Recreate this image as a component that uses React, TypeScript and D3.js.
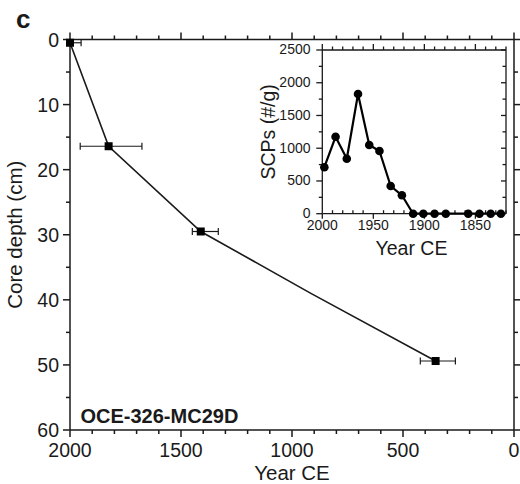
import React from "react";
import * as d3 from "d3";

// Age–depth model of the core
const ageYears = [2000, 1826, 1411, 353];
const ageDepths = [0.5, 16.4, 29.5, 49.4];
const ageYoung = [2050, 1954, 1449, 422];
const ageOld = [1950, 1676, 1332, 264];
const modelYears = [2000, 1826, 1411, 915, 353];
const modelDepths = [0.5, 16.4, 29.5, 39.0, 49.4];

// Spheroidal carbonaceous particle counts (inset)
const scpYears = [1998, 1987, 1976, 1965, 1954, 1944, 1933, 1922, 1911, 1901, 1890, 1879, 1857, 1846, 1835, 1825];
const scpCounts = [710, 1175, 840, 1828, 1050, 958, 423, 281, 0, 0, 0, 0, 0, 0, 0, 0];

const mainYearTicks = [2000, 1500, 1000, 500, 0];
const mainDepthTicks = [0, 10, 20, 30, 40, 50, 60];
const insetYearTicks = [2000, 1950, 1900, 1850];
const insetCountTicks = [0, 500, 1000, 1500, 2000, 2500];

const FONT = "'Liberation Sans', Arial, Helvetica, sans-serif";
const INK = "#1a1a1a";

export default function App() {
  const x = d3.scaleLinear().domain([2000, 0]).range([70, 514]);
  const y = d3.scaleLinear().domain([0, 60]).range([39.5, 430]);

  const xi = d3.scaleLinear().domain([2000, 1820]).range([322.3, 506]);
  const yi = d3.scaleLinear().domain([0, 2500]).range([213.7, 50]);

  const modelLine = d3
    .line<number>()
    .x((_, i) => x(modelYears[i]))
    .y((_, i) => y(modelDepths[i]))(modelYears);

  const scpLine = d3
    .line<number>()
    .x((_, i) => xi(scpYears[i]))
    .y((_, i) => yi(scpCounts[i]))(scpYears);

  const [x0, x1] = x.range();
  const [y0, y1] = y.range();
  const minorYears = d3.range(2000, -1, -100);
  const minorDepths = d3.range(0, 61, 5);

  const [ix0, ix1] = xi.range();
  const [iyB, iyT] = yi.range();
  const insetMinorYears = d3.range(2000, 1819, -10);
  const insetMinorCounts = d3.range(0, 2501, 250);

  const clampYear = (v: number) => Math.max(0, Math.min(2000, v));

  return (
    <svg
      width={520}
      height={484}
      style={{ position: "absolute", left: 0, top: 0, background: "#fff" }}
      fontFamily={FONT}
    >
      <rect width={520} height={484} fill="#fff" />
      <text x={16} y={28} fontSize={26} fontWeight="bold" fill={INK}>
        c
      </text>

      {/* main frame */}
      <g stroke={INK} strokeWidth={1.5} fill="none">
        <line x1={x0} x2={x1} y1={y0} y2={y0} />
        <line x1={x0} x2={x1} y1={y1} y2={y1} />
        <line x1={x0} x2={x0} y1={y0} y2={y1} />
        <line x1={x1} x2={x1} y1={y0} y2={y1} />
        {minorYears.map((v) => {
          const major = v % 500 === 0;
          const len = major ? 7 : 4;
          return (
            <g key={"mx" + v}>
              <line x1={x(v)} x2={x(v)} y1={y1} y2={y1 + len} />
              <line x1={x(v)} x2={x(v)} y1={y0} y2={y0 - len} />
            </g>
          );
        })}
        {minorDepths.map((v) => {
          const major = v % 10 === 0;
          const len = major ? 7 : 4;
          return (
            <g key={"my" + v}>
              <line x1={x0} x2={x0 - len} y1={y(v)} y2={y(v)} />
              <line x1={x1} x2={x1 + len} y1={y(v)} y2={y(v)} />
            </g>
          );
        })}
      </g>

      {mainYearTicks.map((v) => (
        <text key={"lx" + v} x={x(v)} y={457} fontSize={19.5} textAnchor="middle" fill={INK}>
          {v}
        </text>
      ))}
      {mainDepthTicks.map((v) => (
        <text
          key={"ly" + v}
          x={59}
          y={y(v)}
          dy="0.36em"
          fontSize={19.5}
          textAnchor="end"
          fill={INK}
        >
          {v}
        </text>
      ))}
      <text x={292} y={479.5} fontSize={20.5} textAnchor="middle" fill={INK}>
        Year CE
      </text>
      <text
        transform={`translate(22,${(y0 + y1) / 2}) rotate(-90)`}
        fontSize={20.5}
        textAnchor="middle"
        fill={INK}
      >
        Core depth (cm)
      </text>
      <text x={80.5} y={423} fontSize={20} fontWeight="bold" fill={INK}>
        OCE-326-MC29D
      </text>

      {/* age model */}
      <path d={modelLine ?? ""} fill="none" stroke={INK} strokeWidth={1.6} />
      <g stroke={INK} strokeWidth={1.2}>
        {ageYears.map((v, i) => {
          const a = clampYear(ageYoung[i]);
          const b = clampYear(ageOld[i]);
          const cy = y(ageDepths[i]);
          return (
            <g key={"eb" + i}>
              <line x1={x(a)} x2={x(b)} y1={cy} y2={cy} />
              {ageYoung[i] <= 2000 && <line x1={x(a)} x2={x(a)} y1={cy - 3.5} y2={cy + 3.5} />}
              {ageOld[i] >= 0 && <line x1={x(b)} x2={x(b)} y1={cy - 3.5} y2={cy + 3.5} />}
            </g>
          );
        })}
      </g>
      {ageYears.map((v, i) => (
        <rect
          key={"pt" + i}
          x={x(v) - 4}
          y={y(ageDepths[i]) - 4}
          width={8}
          height={8}
          fill="#000"
        />
      ))}

      {/* inset */}
      <rect x={ix0} y={iyT} width={ix1 - ix0} height={iyB - iyT} fill="#fff" />
      <g stroke={INK} strokeWidth={1.3} fill="none">
        <line x1={ix0} x2={ix1} y1={iyT} y2={iyT} />
        <line x1={ix0} x2={ix1} y1={iyB} y2={iyB} />
        <line x1={ix0} x2={ix0} y1={iyT} y2={iyB} />
        <line x1={ix1} x2={ix1} y1={iyT} y2={iyB} />
        {insetMinorYears.map((v) => {
          const major = v % 50 === 0;
          return (
            <g key={"ix" + v}>
              <line x1={xi(v)} x2={xi(v)} y1={iyT} y2={iyT - (major ? 6 : 3.5)} />
              {major ? (
                <line x1={xi(v)} x2={xi(v)} y1={iyB} y2={iyB + 5} />
              ) : (
                <line x1={xi(v)} x2={xi(v)} y1={iyB} y2={iyB - 3.5} />
              )}
            </g>
          );
        })}
        {insetMinorCounts.map((v) => {
          const major = v % 500 === 0;
          return (
            <g key={"iy" + v}>
              <line x1={ix0} x2={ix0 - (major ? 6 : 3.5)} y1={yi(v)} y2={yi(v)} />
              <line x1={ix1} x2={ix1 - (major ? 5 : 3.5)} y1={yi(v)} y2={yi(v)} />
            </g>
          );
        })}
      </g>
      {insetYearTicks.map((v) => (
        <text key={"ilx" + v} x={xi(v)} y={230} fontSize={14} textAnchor="middle" fill={INK}>
          {v}
        </text>
      ))}
      {insetCountTicks.map((v) => (
        <text
          key={"ily" + v}
          x={310.5}
          y={yi(v)}
          dy="0.32em"
          fontSize={14}
          textAnchor="end"
          fill={INK}
        >
          {v}
        </text>
      ))}
      <text x={411.5} y={255} fontSize={19.5} textAnchor="middle" fill={INK}>
        Year CE
      </text>
      <text
        transform={`translate(275,${(iyT + iyB) / 2}) rotate(-90)`}
        fontSize={19.5}
        textAnchor="middle"
        fill={INK}
      >
        SCPs (#/g)
      </text>
      <path d={scpLine ?? ""} fill="none" stroke="#000" strokeWidth={2.2} strokeLinejoin="round" />
      {scpYears.map((v, i) => (
        <circle key={"sc" + i} cx={xi(v)} cy={yi(scpCounts[i])} r={4.3} fill="#000" />
      ))}
    </svg>
  );
}
